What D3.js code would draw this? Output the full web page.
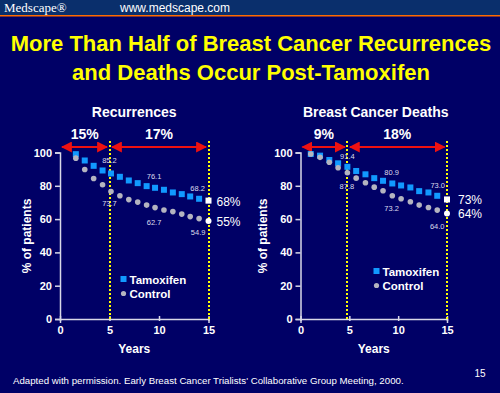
<!DOCTYPE html>
<html>
<head>
<meta charset="utf-8">
<script src="https://cdn.jsdelivr.net/npm/d3@7"></script>
<style>
  body { margin: 0; background: #000066; }
  svg { display: block; font-family: Arial, "Liberation Sans", sans-serif; }
</style>
</head>
<body>
<div id="chart"></div>
<script>
// data
var recYears = [1.6, 2.5, 3.4, 4.3, 5.15, 6.05, 6.95, 7.85, 8.75, 9.6, 10.5, 11.4, 12.3, 13.15, 14.05];
var recTamoxifen = [99.0, 95.2, 92.0, 89.2, 87.4, 85.4, 83.2, 81.6, 79.8, 78.8, 77.6, 76.0, 75.0, 73.6, 72.2];
var recControl = [96.6, 89.8, 84.4, 80.6, 76.6, 74.0, 71.7, 70.2, 68.4, 66.9, 65.5, 64.5, 63.0, 61.5, 60.3];
var recEnd = [71.1, 58.9];
var recEndLabels = ["68%", "55%"];
var recSplit = [5, 15];
var recPct = ["15%", "17%"];
var recNotes = [
  {year: 5, value: 95.6, text: "85.2"}, {year: 5, value: 69.9, text: "73.7"},
  {year: 9.5, value: 85.6, text: "76.1"}, {year: 9.5, value: 58.5, text: "62.7"},
  {year: 13.9, value: 78.6, text: "68.2"}, {year: 13.95, value: 52.1, text: "54.9"}
];

var deathYears = [1.05, 2.0, 2.95, 3.85, 4.8, 5.7, 6.65, 7.55, 8.45, 9.4, 10.3, 11.25, 12.15, 13.1, 14.0];
var deathTamoxifen = [99.1, 98.1, 95.5, 93.5, 91.4, 88.9, 86.9, 84.6, 83.0, 81.4, 80.2, 79.0, 76.8, 76.0, 74.0];
var deathControl = [99.1, 97.1, 94.1, 90.8, 87.8, 84.6, 81.8, 79.2, 77.0, 74.0, 72.2, 70.4, 68.4, 67.0, 65.4];
var deathEnd = [71.8, 63.4];
var deathEndLabels = ["73%", "64%"];
var deathSplit = [4.8, 15];
var deathPct = ["9%", "18%"];
var deathNotes = [
  {year: 4.8, value: 97.9, text: "91.4"}, {year: 4.75, value: 80.0, text: "87.8"},
  {year: 9.33, value: 88.1, text: "80.9"}, {year: 9.33, value: 66.7, text: "73.2"},
  {year: 14.05, value: 80.4, text: "73.0"}, {year: 14.0, value: 55.7, text: "64.0"}
];

var xTicks = [0, 5, 10, 15];
var yTicks = [0, 20, 40, 60, 80, 100];
var legendNames = ["Tamoxifen", "Control"];

var W = 500, H = 393;
var svg = d3.select("#chart").append("svg")
    .attr("width", W)
    .attr("height", H);

svg.append("rect").attr("width", W).attr("height", H).attr("fill", "#000066");

// header bar
svg.append("rect").attr("width", W).attr("height", 15).attr("fill", "#0a2f6c");
svg.append("rect").attr("y", 15).attr("width", W).attr("height", 1.5).attr("fill", "#ff6a00");
svg.append("text")
    .attr("x", 4).attr("y", 12)
    .attr("fill", "#fff")
    .style("font-family", "'Liberation Serif', 'DejaVu Serif', serif")
    .style("font-size", "13px")
    .text("Medscape®");
svg.append("text")
    .attr("x", 120).attr("y", 12)
    .attr("fill", "#fff")
    .style("font-size", "12px")
    .text("www.medscape.com");

// slide title
svg.append("text")
    .attr("x", 251).attr("y", 51)
    .attr("text-anchor", "middle")
    .attr("fill", "#ffff00")
    .style("font-size", "22px").style("font-weight", "bold")
    .text("More Than Half of Breast Cancer Recurrences");
svg.append("text")
    .attr("x", 251).attr("y", 80)
    .attr("text-anchor", "middle")
    .attr("fill", "#ffff00")
    .style("font-size", "22px").style("font-weight", "bold")
    .text("and Deaths Occur Post-Tamoxifen");

var defs = svg.append("defs");
defs.append("marker")
    .attr("id", "arrow")
    .attr("viewBox", "0 0 10 10")
    .attr("refX", 9).attr("refY", 5)
    .attr("markerWidth", 5).attr("markerHeight", 5)
    .attr("orient", "auto-start-reverse")
  .append("path")
    .attr("d", "M0,0 L10,5 L0,10 Z")
    .attr("fill", "#ee1111");

function drawPanel(p) {
  var x = d3.scaleLinear().domain([0, 15]).range([p.x0, p.x1]);
  var y = d3.scaleLinear().domain([0, 100]).range([319, 152.5]);
  var g = svg.append("g");

  // panel title
  g.append("text")
      .attr("x", (p.x0 + p.x1) / 2 + p.titleShift).attr("y", 117)
      .attr("text-anchor", "middle")
      .attr("fill", "#fff")
      .style("font-size", "14px").style("font-weight", "bold")
      .text(p.title);

  // axes
  var yAxis = g.append("g")
      .attr("transform", "translate(" + x(0) + ",0)")
      .call(d3.axisLeft(y).tickValues(yTicks).tickSize(5).tickPadding(3));
  var xAxis = g.append("g")
      .attr("transform", "translate(0," + y(0) + ")")
      .call(d3.axisBottom(x).tickValues(xTicks).tickSize(4).tickPadding(3));
  [xAxis, yAxis].forEach(function(a) {
    a.select(".domain").attr("stroke", "#d8d8e8").attr("stroke-width", 1.5);
    a.selectAll(".tick line").attr("stroke", "#d8d8e8").attr("stroke-width", 1.5);
    a.selectAll(".tick text")
        .attr("fill", "#fff")
        .style("font-size", "11px").style("font-weight", "bold")
        .style("font-family", "Arial, 'Liberation Sans', sans-serif");
  });
  xAxis.selectAll(".tick line").attr("y1", -3).attr("y2", 2);

  // axis titles
  g.append("text")
      .attr("x", (p.x0 + p.x1) / 2).attr("y", 353)
      .attr("text-anchor", "middle")
      .attr("fill", "#fff")
      .style("font-size", "12px").style("font-weight", "bold")
      .text("Years");
  g.append("text")
      .attr("transform", "translate(" + p.yLabelX + ",236) rotate(-90)")
      .attr("text-anchor", "middle")
      .attr("fill", "#fff")
      .style("font-size", "12px").style("font-weight", "bold")
      .text("% of patients");

  // dotted reference lines
  g.selectAll(".ref")
    .data(p.split)
    .enter().append("line")
      .attr("x1", function(d) { return Math.round(x(d)); })
      .attr("x2", function(d) { return Math.round(x(d)); })
      .attr("y1", 141).attr("y2", y(0))
      .attr("stroke", "#ffff00")
      .attr("stroke-width", 2)
      .attr("stroke-dasharray", "2,2");

  // red double arrows with percent labels
  var spans = [[0, p.split[0]], [p.split[0], p.split[1]]];
  spans.forEach(function(s, i) {
    var a = x(s[0]) + (i === 0 ? 2 : 2.5), b = x(s[1]) - 2.5;
    g.append("line")
        .attr("x1", a).attr("x2", b)
        .attr("y1", 147).attr("y2", 147)
        .attr("stroke", "#ee1111")
        .attr("stroke-width", 2.2)
        .attr("marker-start", "url(#arrow)")
        .attr("marker-end", "url(#arrow)");
    g.append("text")
        .attr("x", x((s[0] + s[1]) / 2)).attr("y", 139)
        .attr("text-anchor", "middle")
        .attr("fill", "#fff")
        .style("font-size", "14px").style("font-weight", "bold")
        .text(p.pct[i]);
  });

  // series
  var tam = p.years.map(function(d, i) { return {year: d, value: p.tamoxifen[i]}; });
  var ctl = p.years.map(function(d, i) { return {year: d, value: p.control[i]}; });

  g.selectAll(".tam")
    .data(tam)
    .enter().append("rect")
      .attr("x", function(d) { return x(d.year) - 3; })
      .attr("y", function(d) { return y(d.value) - 3; })
      .attr("width", 6).attr("height", 6)
      .attr("fill", "#1199ff");

  g.selectAll(".ctl")
    .data(ctl)
    .enter().append("circle")
      .attr("cx", function(d) { return x(d.year); })
      .attr("cy", function(d) { return y(d.value); })
      .attr("r", 2.8)
      .attr("fill", "#b4b4c0");

  // white end markers at 15 years
  g.append("rect")
      .attr("x", x(15) - 3).attr("y", y(p.end[0]) - 3)
      .attr("width", 6).attr("height", 6)
      .attr("fill", "#fff");
  g.append("circle")
      .attr("cx", x(15)).attr("cy", y(p.end[1]))
      .attr("r", 3)
      .attr("fill", "#fff");
  p.endLabels.forEach(function(t, i) {
    g.append("text")
        .attr("x", x(15) + p.endGap).attr("y", y(p.end[i]) + 5)
        .attr("fill", "#fff")
        .style("font-size", "12px")
        .text(t);
  });

  // small value notes
  g.selectAll(".note")
    .data(p.notes)
    .enter().append("text")
      .attr("x", function(d) { return x(d.year); })
      .attr("y", function(d) { return y(d.value) + 3; })
      .attr("text-anchor", "middle")
      .attr("fill", "#dcdcec")
      .style("font-size", "7.5px")
      .text(function(d) { return d.text; });

  // legend
  var lg = g.append("g").attr("transform", "translate(" + p.legendX + "," + p.legendY + ")");
  lg.append("rect").attr("x", -3).attr("y", -3).attr("width", 6).attr("height", 6).attr("fill", "#1199ff");
  lg.append("circle").attr("cx", 0).attr("cy", 14.5).attr("r", 2.6).attr("fill", "#b4b4c0");
  legendNames.forEach(function(n, i) {
    lg.append("text")
        .attr("x", 6).attr("y", i * 14.5 + 4.5)
        .attr("fill", "#fff")
        .style("font-size", "11.5px").style("font-weight", "bold")
        .text(n);
  });
}

drawPanel({
  title: "Recurrences", titleShift: 0,
  x0: 60, x1: 208.5, yLabelX: 31,
  years: recYears, tamoxifen: recTamoxifen, control: recControl,
  end: recEnd, endLabels: recEndLabels, endGap: 8,
  split: recSplit, pct: recPct, notes: recNotes,
  legendX: 123.5, legendY: 279
});

drawPanel({
  title: "Breast Cancer Deaths", titleShift: 2,
  x0: 300.5, x1: 447, yLabelX: 267,
  years: deathYears, tamoxifen: deathTamoxifen, control: deathControl,
  end: deathEnd, endLabels: deathEndLabels, endGap: 11,
  split: deathSplit, pct: deathPct, notes: deathNotes,
  legendX: 376.5, legendY: 271
});

// footer
svg.append("text")
    .attr("x", 13).attr("y", 384)
    .attr("fill", "#fff")
    .style("font-size", "9.7px")
    .text("Adapted with permission. Early Breast Cancer Trialists' Collaborative Group Meeting, 2000.");
svg.append("text")
    .attr("x", 480).attr("y", 377)
    .attr("text-anchor", "middle")
    .attr("fill", "#fff")
    .style("font-size", "10px")
    .text("15");
</script>
</body>
</html>
